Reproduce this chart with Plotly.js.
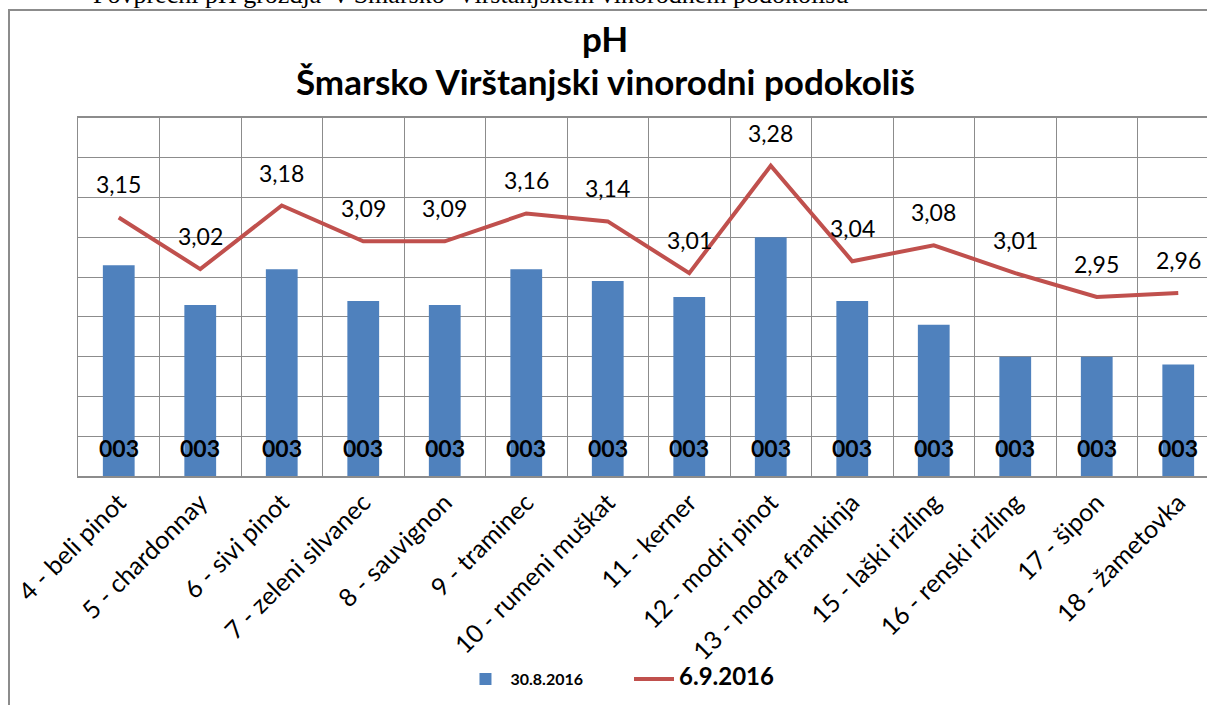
<!DOCTYPE html>
<html>
<head>
<meta charset="utf-8">
<script src="https://cdn.plot.ly/plotly-3.0.1.min.js"></script>
<style>
  body { margin: 0; overflow: hidden; background: #fff; }
  #caption { position: absolute; left: 93px; top: -18px; font: 26px "Liberation Serif", serif; line-height: 26px; white-space: pre; color: #000; }
  #frame { position: absolute; left: 8px; top: 9px; width: 2000px; height: 2000px; border-left: 2px solid #8c8c8c; border-top: 2px solid #8c8c8c; pointer-events: none; z-index: 5; }
  #chart { position: absolute; left: 0; top: 0; }
</style>
</head>
<body>
<div id="caption">Povprečni pH grozdja  v Šmarsko  Virštanjskem vinorodnem podokolišu</div>
<div id="chart"></div>
<div id="frame"></div>
<script>
"use strict";

// sorte (x os)
var sorte = ["4 - beli pinot", "5 - chardonnay", "6 - sivi pinot", "7 - zeleni silvanec", "8 - sauvignon",
    "9 - traminec", "10 - rumeni muškat", "11 - kerner", "12 - modri pinot", "13 - modra frankinja",
    "15 - laški rizling", "16 - renski rizling", "17 - šipon", "18 - žametovka"];

// pH 30.8.2016 (stolpci)
var ph3008 = [3.03, 2.93, 3.02, 2.94, 2.93, 3.02, 2.99, 2.95, 3.10, 2.94, 2.88, 2.80, 2.80, 2.78];

// pH 6.9.2016 (crta)
var ph0609 = [3.15, 3.02, 3.18, 3.09, 3.09, 3.16, 3.14, 3.01, 3.28, 3.04, 3.08, 3.01, 2.95, 2.96];

var barLabel = "003";
var yRange = [2.5, 3.4];

var font = "Lato, 'Open Sans', sans-serif";

function FormatComma(v) {
    return v.toFixed(2).replace(".", ",");
}

var annotations = [];
for (let i = 0; i < sorte.length; i++) {
    annotations.push({
        x: sorte[i], y: ph0609[i], text: FormatComma(ph0609[i]),
        showarrow: false, yanchor: "middle", yshift: 33,
        font: { family: font, size: 23, color: "#000" }
    });
    annotations.push({
        x: sorte[i], y: yRange[0], text: "<b>" + barLabel + "</b>",
        showarrow: false, yanchor: "middle", yshift: 28,
        font: { family: font, size: 23, color: "#000" }
    });
}

// drugi del naslova
annotations.push({
    xref: "paper", yref: "paper", x: 0.4619, y: 1.104,
    xanchor: "center", yanchor: "middle", showarrow: false,
    text: "<b>Šmarsko Virštanjski vinorodni podokoliš</b>",
    font: { family: font, size: 35, color: "#000" }
});

var data = [
    {
        type: "bar",
        x: sorte,
        y: ph3008,
        name: "<b>30.8.2016</b>\u00a0\u00a0\u00a0\u00a0\u00a0\u00a0\u00a0\u00a0\u00a0\u00a0",
        marker: { color: "#4F81BD" },
        hoverinfo: "skip"
    },
    {
        type: "scatter",
        mode: "lines",
        x: sorte,
        y: ph0609,
        name: "<span style='font-size:24px'><b>6.9.2016</b></span>",
        line: { color: "#C0504D", width: 4 },
        hoverinfo: "skip"
    }
];

var layout = {
    width: 1230,
    height: 705,
    margin: { l: 78, r: 11, t: 118, b: 228 },
    paper_bgcolor: "rgba(0,0,0,0)",
    plot_bgcolor: "#fff",
    font: { family: font, color: "#000" },
    title: {
        text: "<b>pH</b>",
        font: { family: font, size: 35, color: "#000" },
        xref: "container", x: 0.492, xanchor: "center",
        yref: "container", y: 0.944, yanchor: "middle"
    },
    bargap: 0.61,
    showlegend: true,
    legend: {
        orientation: "h",
        x: 0.475, xanchor: "center",
        y: -0.563, yanchor: "middle",
        font: { family: font, size: 16, color: "#000" },
        itemwidth: 40
    },
    xaxis: {
        type: "category",
        tickson: "boundaries",
        showgrid: true,
        gridcolor: "#8c8c8c",
        gridwidth: 1,
        showline: true,
        linecolor: "#8c8c8c",
        linewidth: 2,
        mirror: true,
        ticks: "",
        tickangle: -45,
        tickfont: { family: font, size: 25, color: "#000" },
        fixedrange: true
    },
    yaxis: {
        range: yRange,
        dtick: 0.1,
        tick0: 2.5,
        showgrid: true,
        gridcolor: "#8c8c8c",
        gridwidth: 1,
        showline: true,
        linecolor: "#8c8c8c",
        linewidth: 1,
        mirror: true,
        showticklabels: false,
        zeroline: false,
        ticks: "",
        fixedrange: true
    },
    annotations: annotations,
    hovermode: false
};

Plotly.newPlot("chart", data, layout, { displayModeBar: false, staticPlot: true });
</script>
</body>
</html>
